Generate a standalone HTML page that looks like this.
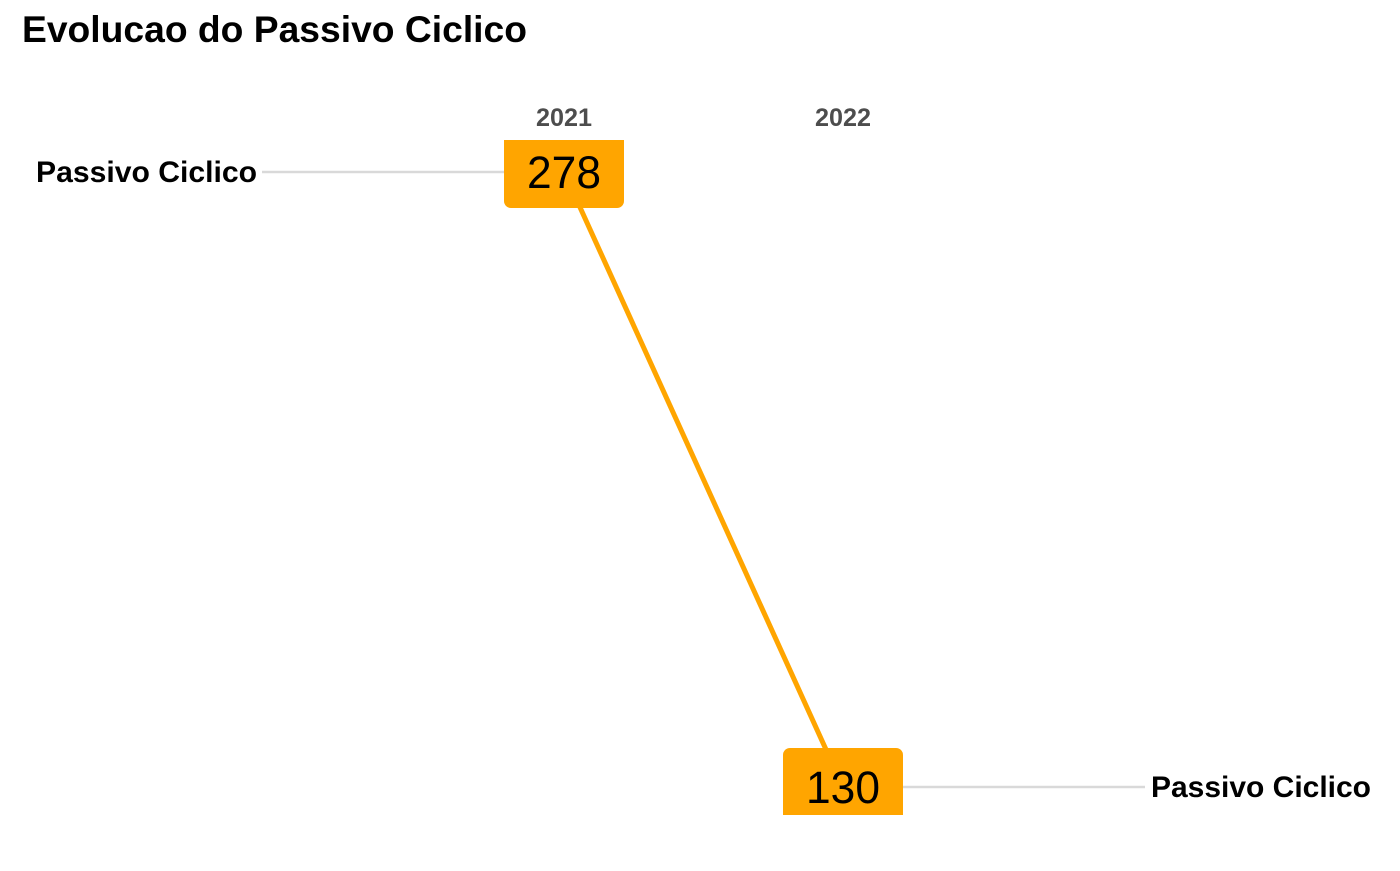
<!DOCTYPE html>
<html><head><meta charset="utf-8"><style>
body{margin:0;background:#fff;}
svg text{font-family:"Liberation Sans",Arial,sans-serif;}
</style></head><body>
<svg width="1400" height="866">
<text x="22" y="42" font-size="37" font-weight="bold" fill="#000" textLength="505" lengthAdjust="spacingAndGlyphs">Evolucao do Passivo Ciclico</text>
<g id="g"></g>
</svg>
<script>
const years = ["2021","2022"];
const values = [278,130];
const seriesName = "Passivo Ciclico";
const NS="http://www.w3.org/2000/svg";
const g=document.getElementById('g');
const xPos=i=>564+i*279;
const yMin=130,yMax=278;
const y=v=>787-(v-yMin)/(yMax-yMin)*615;
function mk(t,a){const e=document.createElementNS(NS,t);for(const k in a)e.setAttribute(k,a[k]);g.appendChild(e);return e;}
const l1=mk('line',{x1:262,x2:xPos(0),y1:y(values[0]),y2:y(values[0]),stroke:'#d9d9d9','stroke-width':2.5});


const l2=mk('line',{x1:xPos(1),x2:1145,y1:y(values[1]),y2:y(values[1]),stroke:'#d9d9d9','stroke-width':2.5});


const t1=mk('text',{x:36,y:y(values[0])+10,'font-size':30,'font-weight':'bold',textLength:221,lengthAdjust:'spacingAndGlyphs'});
t1.textContent=seriesName;


const t2=mk('text',{x:1151,y:y(values[1])+10,'font-size':30,'font-weight':'bold',textLength:220,lengthAdjust:'spacingAndGlyphs'});
t2.textContent=seriesName;


const ln=mk('line',{x1:xPos(0),y1:y(values[0]),x2:xPos(1),y2:y(values[1]),stroke:'#ffa500','stroke-width':5});


values.forEach((v,i)=>{
  const cx=xPos(i),cy=y(v);
  const r=mk('rect',{x:cx-60,y:cy-39,width:120,height:75,rx:7,fill:'#ffa500'});
  
  
  const t=mk('text',{x:cx,y:cy+16,'font-size':45,'text-anchor':'middle',fill:'#000',textLength:74,lengthAdjust:'spacingAndGlyphs'});
  t.textContent=v;
  
  
});
const c1=mk('rect',{x:480,y:128,width:170,height:12,fill:'#fff'});


const c2=mk('rect',{x:760,y:815,width:170,height:51,fill:'#fff'});


years.forEach((yr,i)=>{
  const t=mk('text',{x:xPos(i),y:126,'font-size':25,'font-weight':'bold',fill:'#4d4d4d','text-anchor':'middle',textLength:56,lengthAdjust:'spacingAndGlyphs'});
  t.textContent=yr;
  
  
});
</script>
</body></html>
